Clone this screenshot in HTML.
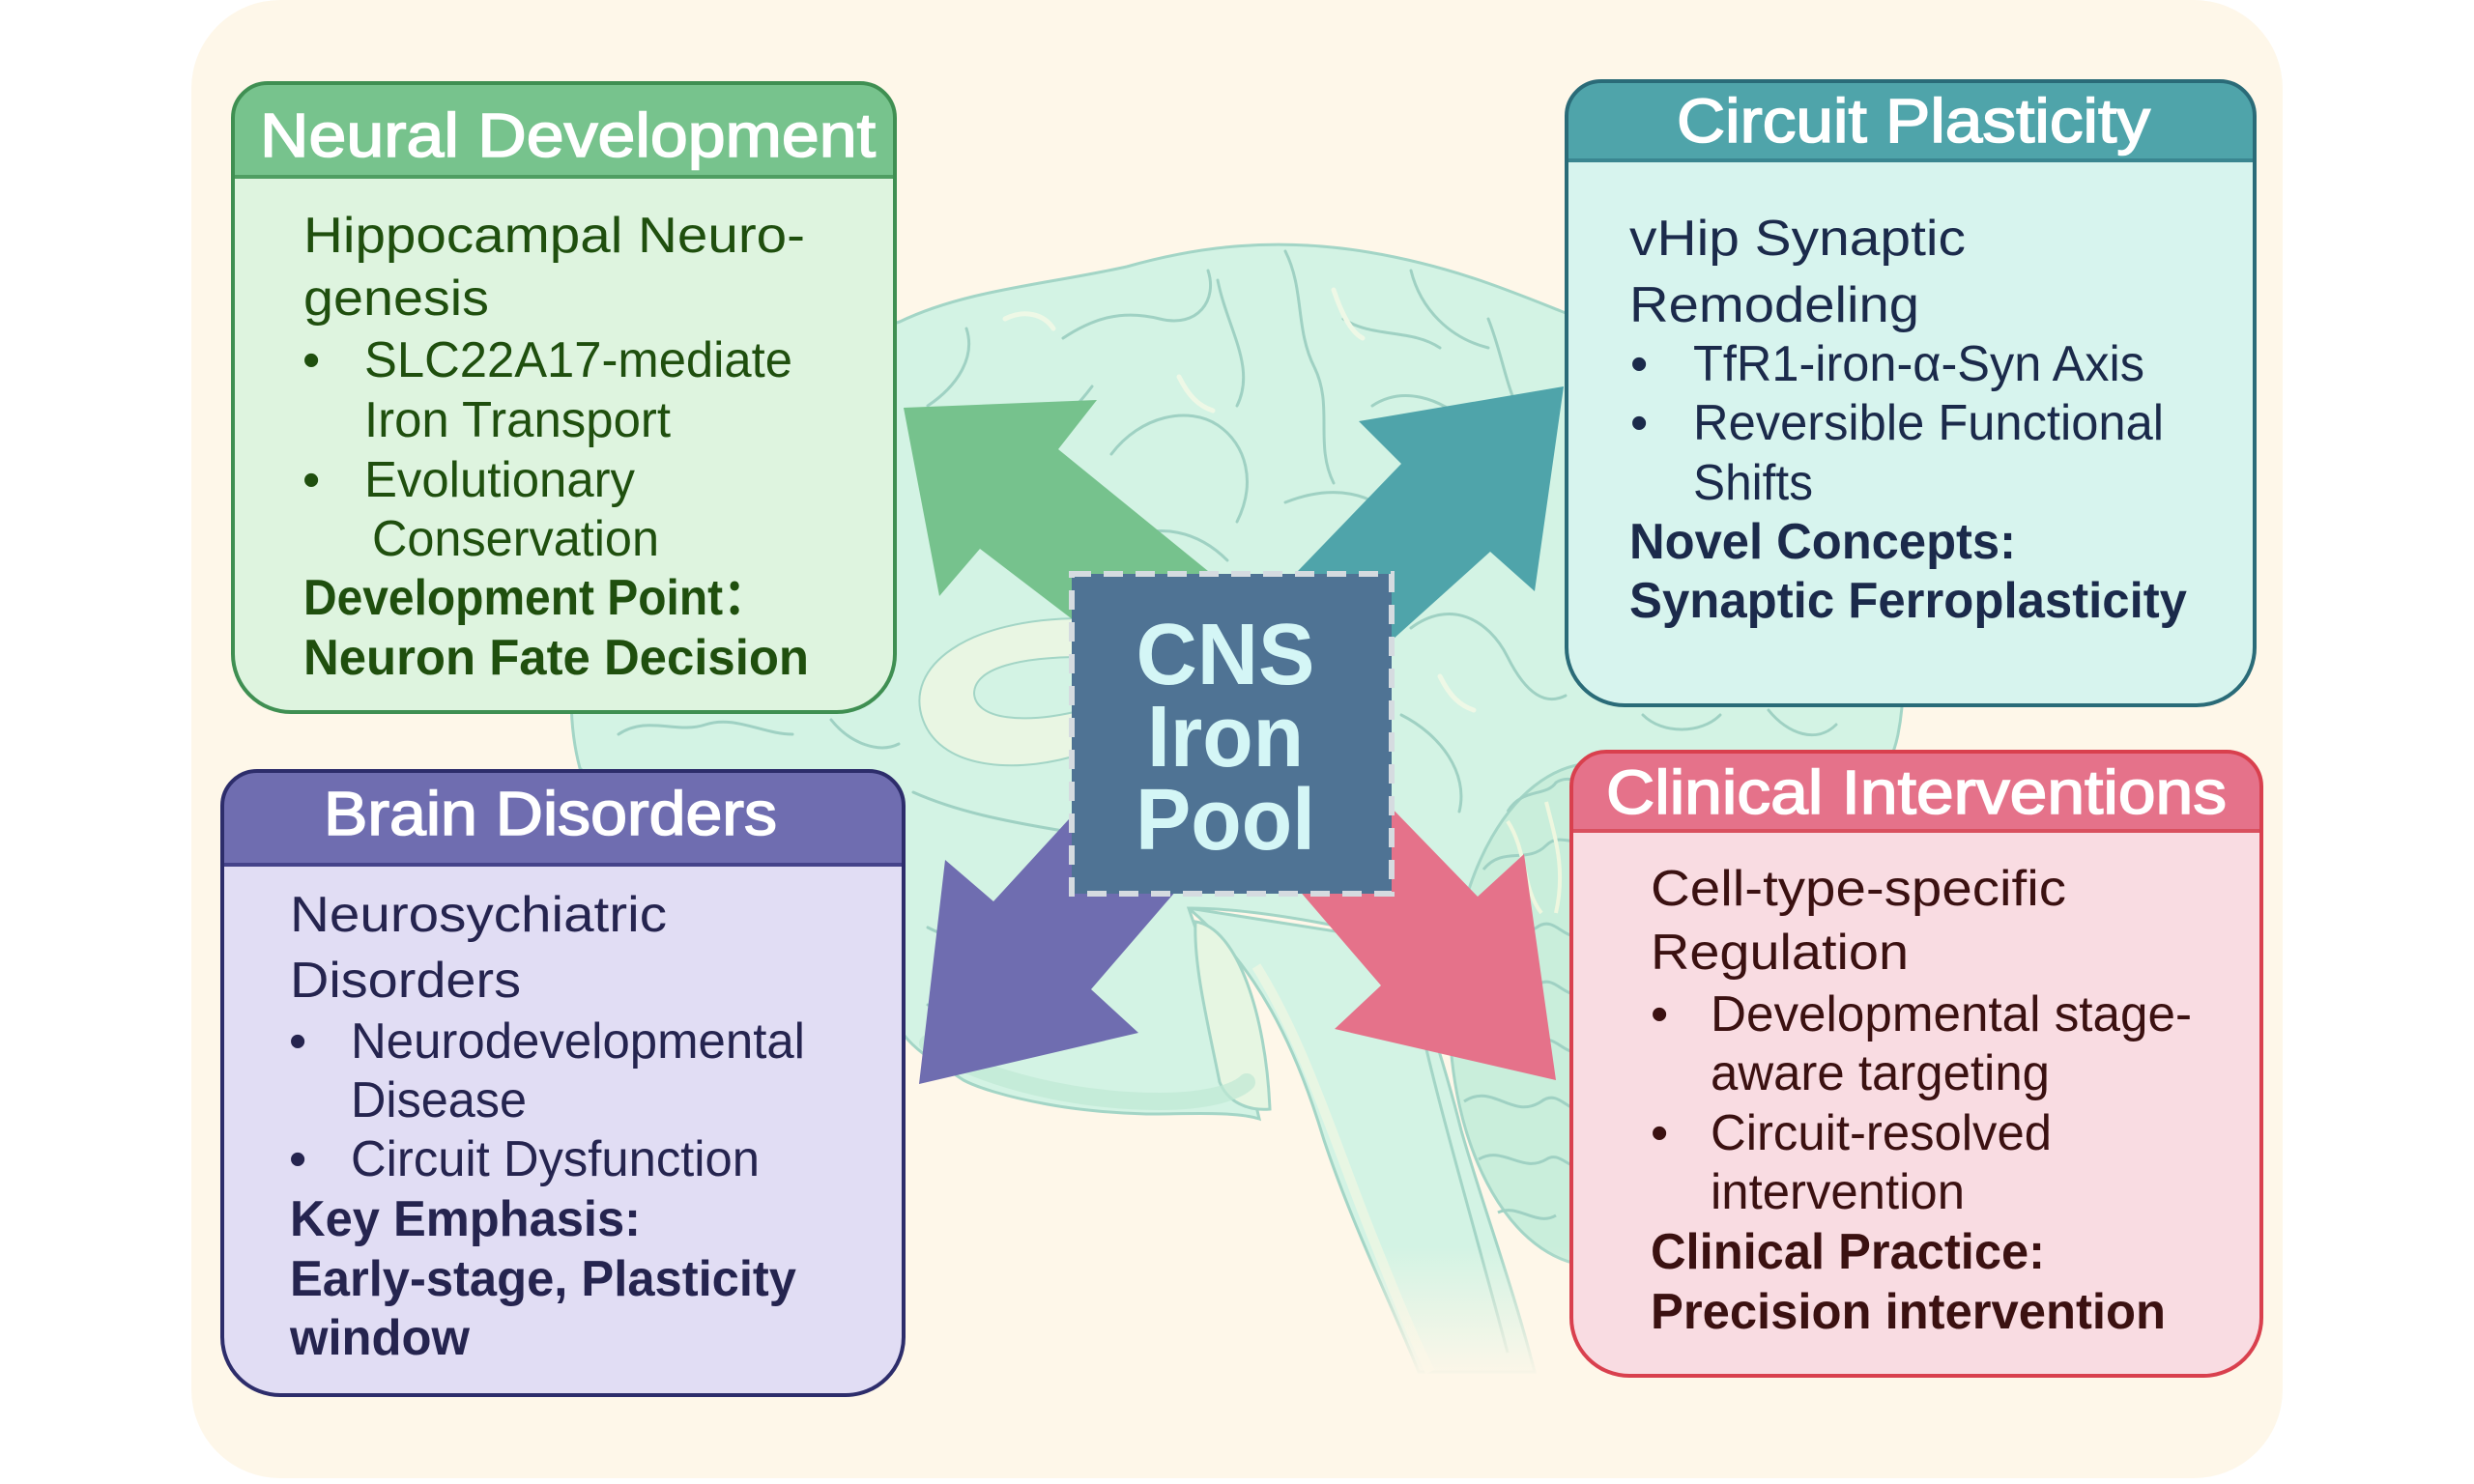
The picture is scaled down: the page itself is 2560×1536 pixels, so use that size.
<!DOCTYPE html>
<html>
<head>
<meta charset="utf-8">
<style>
html,body{margin:0;padding:0;background:#ffffff;}
svg{display:block;}
text{font-family:"Liberation Sans","Noto Sans CJK SC",Arial,sans-serif;}
</style>
</head>
<body>
<svg width="2560" height="1536" viewBox="0 0 2560 1536" xmlns="http://www.w3.org/2000/svg">
  <defs>
    <linearGradient id="fade" x1="0" y1="0" x2="0" y2="1">
      <stop offset="0" stop-color="#fef7e9" stop-opacity="0"/>
      <stop offset="1" stop-color="#fef7e9" stop-opacity="1"/>
    </linearGradient>
  </defs>

  <!-- page background -->
  <rect x="0" y="0" width="2560" height="1536" fill="#ffffff"/>
  <rect x="198" y="0" width="2164" height="1530" rx="92" ry="92" fill="#fef7e9"/>

  <!-- ===== Brain illustration ===== -->
  <g>
    <!-- brainstem -->
    <path d="M1230,940 C1300,1000 1340,1080 1370,1180 C1400,1270 1440,1350 1468,1420 L1588,1420 C1565,1330 1535,1250 1512,1170 C1492,1090 1470,1030 1452,975 Z" fill="#d3f3e4" stroke="#a3d5c6" stroke-width="3"/>
    <path d="M1300,1000 C1350,1080 1380,1180 1420,1280 C1440,1330 1460,1380 1480,1420" fill="none" stroke="#e8f6e3" stroke-width="10"/>
    <path d="M1470,1060 C1490,1150 1520,1250 1560,1400" fill="none" stroke="#a3d5c6" stroke-width="3"/>
    <!-- cerebrum -->
    <path d="M600,795 C575,700 605,590 670,510 C740,420 840,360 931,333 C1000,300 1080,295 1166,276 C1240,255 1320,245 1416,261 C1500,275 1560,300 1615,322 C1730,365 1840,430 1905,510 C1965,590 1978,690 1964,760 C1950,830 1890,860 1800,875 C1720,890 1650,880 1600,900 C1540,920 1500,930 1452,975 C1400,960 1300,940 1230,940 C1250,1000 1290,1100 1303,1158 C1278,1150 1230,1153 1186,1153 C1140,1152 1100,1146 1084,1143 C1040,1135 1010,1125 997,1118 C970,1100 950,1090 936,1072 C880,1030 820,960 760,900 C700,860 640,840 600,795 Z" fill="#d3f3e4" stroke="#a3d5c6" stroke-width="3"/>
    <!-- cerebellum -->
    <ellipse cx="1650" cy="1050" rx="150" ry="260" fill="#c9eedb" stroke="#a3d5c6" stroke-width="3"/>
    <path d="M1560,840 C1575,815 1600,825 1610,810 C1625,800 1640,815 1650,805 M1535,900 C1555,875 1580,895 1600,875 C1615,860 1630,880 1650,865 M1520,960 C1550,940 1560,980 1590,960 C1610,945 1620,980 1640,965 M1510,1020 C1540,1000 1560,1040 1590,1020 C1610,1005 1620,1040 1640,1025 M1508,1080 C1540,1060 1560,1100 1590,1080 C1610,1065 1620,1100 1640,1085 M1515,1140 C1545,1120 1565,1160 1595,1140 C1615,1125 1625,1160 1645,1145 M1530,1200 C1555,1185 1575,1215 1600,1200 C1615,1190 1625,1215 1640,1205 M1550,1255 C1570,1245 1590,1270 1610,1258" fill="none" stroke="#9fd1c3" stroke-width="3"/>
    <path d="M1560,850 C1580,880 1575,920 1595,945 M1600,830 C1610,870 1620,900 1610,945" fill="none" stroke="#eef7df" stroke-width="4"/>
    <!-- inner lighter region / corpus callosum -->
    <path d="M1120,640 C1000,640 935,690 955,745 C975,800 1060,800 1120,780 L1120,735 C1060,750 1010,745 1008,718 C1008,690 1060,680 1120,680 Z" fill="#e9f6e3" stroke="#a3d5c6" stroke-width="2"/>
    <path d="M1237,954 C1280,960 1310,1050 1314,1148 C1290,1150 1270,1140 1262,1120 C1250,1060 1235,1000 1237,954 Z" fill="#e6f6e2" stroke="#a3d5c6" stroke-width="3"/>
    <path d="M960,1080 C1020,1120 1120,1140 1200,1140 C1250,1140 1280,1130 1290,1120" fill="none" stroke="#bfe8d4" stroke-width="18" stroke-linecap="round" opacity="0.7"/>
    <!-- gyri -->
    <g fill="none" stroke="#9fd1c3" stroke-width="3" stroke-linecap="round">
      <path d="M960,420 C990,400 1010,370 1000,340"/>
      <path d="M1010,500 C1060,470 1100,440 1130,400"/>
      <path d="M1100,350 C1130,330 1160,320 1200,330 C1240,340 1260,310 1250,280"/>
      <path d="M1150,470 C1180,430 1230,420 1260,440 C1290,460 1300,500 1280,540"/>
      <path d="M1260,290 C1270,340 1300,380 1280,420"/>
      <path d="M1330,260 C1350,300 1340,340 1360,380 C1380,420 1360,460 1380,500"/>
      <path d="M1390,330 C1420,350 1460,340 1490,360"/>
      <path d="M1420,420 C1450,400 1490,410 1520,440"/>
      <path d="M1460,280 C1470,320 1500,350 1540,360"/>
      <path d="M1540,330 C1560,380 1560,430 1600,460"/>
      <path d="M1330,520 C1380,500 1420,510 1450,540"/>
      <path d="M1160,560 C1200,540 1240,550 1270,580"/>
      <path d="M1460,650 C1500,620 1540,640 1560,680 C1580,720 1600,730 1620,720"/>
      <path d="M1450,740 C1490,760 1520,800 1510,840"/>
      <path d="M1700,740 C1720,760 1760,760 1780,740 M1830,735 C1850,760 1880,770 1900,750"/>
      <path d="M640,760 C670,740 700,760 730,750 C760,740 790,760 820,760 M860,745 C880,770 910,780 930,770"/>
      <path d="M960,960 C1000,980 1050,990 1090,1000 M960,1040 C1010,1060 1060,1070 1110,1080"/>
      <path d="M945,820 C990,840 1040,850 1100,860"/>
    </g>
    <g fill="none" stroke="#eef8e6" stroke-width="5" stroke-linecap="round">
      <path d="M1040,330 C1060,320 1080,325 1090,340"/>
      <path d="M1220,390 C1230,410 1240,420 1255,425"/>
      <path d="M1380,300 C1390,330 1400,345 1410,350"/>
      <path d="M1560,420 C1570,440 1580,450 1595,455"/>
      <path d="M1490,700 C1500,720 1510,730 1525,735"/>
    </g>
    <!-- fade brainstem bottom -->
    <rect x="1380" y="1290" width="260" height="140" fill="url(#fade)"/>
  </g>

  <!-- ===== Arrows ===== -->
  <polygon points="935,422 1135,414 1095,465 1320,648 1200,710 1014,568 972,617" fill="#76c28d"/>
  <polygon points="1618,400 1406,436 1450,480 1290,646 1380,717 1542,571 1588,612" fill="#4fa4aa"/>
  <polygon points="951,1122 978,890 1028,933 1150,800 1230,907 1129,1024 1178,1069" fill="#6f6db0"/>
  <polygon points="1610,1118 1381,1065 1429,1020 1330,905 1400,795 1529,928 1577,884" fill="#e5728a"/>

  <!-- ===== CNS Iron Pool ===== -->
  <rect x="1109" y="594" width="331" height="331" fill="#4f7394" stroke="#d5dbe0" stroke-width="6" stroke-dasharray="20 13"/>
  <g font-weight="bold" font-size="90" fill="#d4f6f6" text-anchor="middle">
    <text x="1268" y="708" textLength="185" lengthAdjust="spacingAndGlyphs">CNS</text>
    <text x="1268" y="793" textLength="162" lengthAdjust="spacingAndGlyphs">Iron</text>
    <text x="1268" y="879" textLength="186" lengthAdjust="spacingAndGlyphs">Pool</text>
  </g>

  <!-- ===== Neural Development ===== -->
  <path d="M277,86 H890 A36 36 0 0 1 926,122 V677 A60 60 0 0 1 866,737 H301 A60 60 0 0 1 241,677 V122 A36 36 0 0 1 277,86 Z" fill="#def4df"/>
  <path d="M277,86 H890 A36 36 0 0 1 926,122 V184 H241 V122 A36 36 0 0 1 277,86 Z" fill="#77c38d"/>
  <line x1="241" y1="183" x2="926" y2="183" stroke="#4f9e62" stroke-width="4"/>
  <path d="M277,86 H890 A36 36 0 0 1 926,122 V677 A60 60 0 0 1 866,737 H301 A60 60 0 0 1 241,677 V122 A36 36 0 0 1 277,86 Z" fill="none" stroke="#3f8f52" stroke-width="4"/>
  <text x="269" y="162" font-size="64" fill="#ffffff" stroke="#ffffff" stroke-width="1.6" textLength="637" lengthAdjust="spacingAndGlyphs">Neural Development</text>
  <g font-size="52" fill="#1f4f0e">
    <text x="314" y="261" textLength="519" lengthAdjust="spacingAndGlyphs">Hippocampal Neuro-</text>
    <text x="314" y="326" textLength="192" lengthAdjust="spacingAndGlyphs">genesis</text>
    <text x="313" y="390">•</text>
    <text x="377" y="390" textLength="443" lengthAdjust="spacingAndGlyphs">SLC22A17-mediate</text>
    <text x="377" y="452" textLength="317" lengthAdjust="spacingAndGlyphs">Iron Transport</text>
    <text x="313" y="514">•</text>
    <text x="377" y="514" textLength="280" lengthAdjust="spacingAndGlyphs">Evolutionary</text>
    <text x="385" y="575" textLength="297" lengthAdjust="spacingAndGlyphs">Conservation</text>
    <text x="314" y="636" font-weight="bold" textLength="482" lengthAdjust="spacingAndGlyphs">Development Point：</text>
    <text x="314" y="698" font-weight="bold" textLength="523" lengthAdjust="spacingAndGlyphs">Neuron Fate Decision</text>
  </g>

  <!-- ===== Circuit Plasticity ===== -->
  <path d="M1657,84 H2297 A36 36 0 0 1 2333,120 V670 A60 60 0 0 1 2273,730 H1681 A60 60 0 0 1 1621,670 V120 A36 36 0 0 1 1657,84 Z" fill="#d7f4ee"/>
  <path d="M1657,84 H2297 A36 36 0 0 1 2333,120 V167 H1621 V120 A36 36 0 0 1 1657,84 Z" fill="#4fa4aa"/>
  <line x1="1621" y1="166" x2="2333" y2="166" stroke="#3a8690" stroke-width="4"/>
  <path d="M1657,84 H2297 A36 36 0 0 1 2333,120 V670 A60 60 0 0 1 2273,730 H1681 A60 60 0 0 1 1621,670 V120 A36 36 0 0 1 1657,84 Z" fill="none" stroke="#2a6b78" stroke-width="4"/>
  <text x="1735" y="147" font-size="64" fill="#ffffff" stroke="#ffffff" stroke-width="1.6" textLength="490" lengthAdjust="spacingAndGlyphs">Circuit Plasticity</text>
  <g font-size="52" fill="#1b2a4b">
    <text x="1686" y="264" textLength="348" lengthAdjust="spacingAndGlyphs">vHip Synaptic</text>
    <text x="1686" y="333" textLength="300" lengthAdjust="spacingAndGlyphs">Remodeling</text>
    <text x="1687" y="394">•</text>
    <text x="1752" y="394" textLength="467" lengthAdjust="spacingAndGlyphs">TfR1-iron-α-Syn Axis</text>
    <text x="1687" y="455">•</text>
    <text x="1752" y="455" textLength="487" lengthAdjust="spacingAndGlyphs">Reversible Functional</text>
    <text x="1752" y="517" textLength="124" lengthAdjust="spacingAndGlyphs">Shifts</text>
    <text x="1686" y="578" font-weight="bold" textLength="400" lengthAdjust="spacingAndGlyphs">Novel Concepts:</text>
    <text x="1686" y="639" font-weight="bold" textLength="577" lengthAdjust="spacingAndGlyphs">Synaptic Ferroplasticity</text>
  </g>

  <!-- ===== Brain Disorders ===== -->
  <path d="M266,798 H899 A36 36 0 0 1 935,834 V1384 A60 60 0 0 1 875,1444 H290 A60 60 0 0 1 230,1384 V834 A36 36 0 0 1 266,798 Z" fill="#e1ddf4"/>
  <path d="M266,798 H899 A36 36 0 0 1 935,834 V896 H230 V834 A36 36 0 0 1 266,798 Z" fill="#6f6db0"/>
  <line x1="230" y1="895" x2="935" y2="895" stroke="#45438a" stroke-width="4"/>
  <path d="M266,798 H899 A36 36 0 0 1 935,834 V1384 A60 60 0 0 1 875,1444 H290 A60 60 0 0 1 230,1384 V834 A36 36 0 0 1 266,798 Z" fill="none" stroke="#2d2d6b" stroke-width="4"/>
  <text x="335" y="864" font-size="64" fill="#ffffff" stroke="#ffffff" stroke-width="1.6" textLength="469" lengthAdjust="spacingAndGlyphs">Brain Disorders</text>
  <g font-size="52" fill="#25244f">
    <text x="300" y="964" textLength="390" lengthAdjust="spacingAndGlyphs">Neurosychiatric</text>
    <text x="300" y="1032" textLength="239" lengthAdjust="spacingAndGlyphs">Disorders</text>
    <text x="299" y="1095">•</text>
    <text x="363" y="1095" textLength="470" lengthAdjust="spacingAndGlyphs">Neurodevelopmental</text>
    <text x="363" y="1156" textLength="182" lengthAdjust="spacingAndGlyphs">Disease</text>
    <text x="299" y="1217">•</text>
    <text x="363" y="1217" textLength="423" lengthAdjust="spacingAndGlyphs">Circuit Dysfunction</text>
    <text x="300" y="1279" font-weight="bold" textLength="363" lengthAdjust="spacingAndGlyphs">Key Emphasis:</text>
    <text x="300" y="1341" font-weight="bold" textLength="524" lengthAdjust="spacingAndGlyphs">Early-stage, Plasticity</text>
    <text x="300" y="1402" font-weight="bold" textLength="186" lengthAdjust="spacingAndGlyphs">window</text>
  </g>

  <!-- ===== Clinical Interventions ===== -->
  <path d="M1662,778 H2304 A36 36 0 0 1 2340,814 V1364 A60 60 0 0 1 2280,1424 H1686 A60 60 0 0 1 1626,1364 V814 A36 36 0 0 1 1662,778 Z" fill="#f9dce2"/>
  <path d="M1662,778 H2304 A36 36 0 0 1 2340,814 V861 H1626 V814 A36 36 0 0 1 1662,778 Z" fill="#e5728a"/>
  <line x1="1626" y1="860" x2="2340" y2="860" stroke="#d9505f" stroke-width="4"/>
  <path d="M1662,778 H2304 A36 36 0 0 1 2340,814 V1364 A60 60 0 0 1 2280,1424 H1686 A60 60 0 0 1 1626,1364 V814 A36 36 0 0 1 1662,778 Z" fill="none" stroke="#d9404e" stroke-width="4"/>
  <text x="1662" y="842" font-size="64" fill="#ffffff" stroke="#ffffff" stroke-width="1.6" textLength="642" lengthAdjust="spacingAndGlyphs">Clinical Interventions</text>
  <g font-size="52" fill="#3b1111">
    <text x="1708" y="937" textLength="430" lengthAdjust="spacingAndGlyphs">Cell-type-specific</text>
    <text x="1708" y="1003" textLength="267" lengthAdjust="spacingAndGlyphs">Regulation</text>
    <text x="1708" y="1067">•</text>
    <text x="1770" y="1067" textLength="498" lengthAdjust="spacingAndGlyphs">Developmental stage-</text>
    <text x="1770" y="1128" textLength="351" lengthAdjust="spacingAndGlyphs">aware targeting</text>
    <text x="1708" y="1190">•</text>
    <text x="1770" y="1190" textLength="353" lengthAdjust="spacingAndGlyphs">Circuit-resolved</text>
    <text x="1770" y="1251" textLength="263" lengthAdjust="spacingAndGlyphs">intervention</text>
    <text x="1708" y="1313" font-weight="bold" textLength="408" lengthAdjust="spacingAndGlyphs">Clinical Practice:</text>
    <text x="1708" y="1375" font-weight="bold" textLength="533" lengthAdjust="spacingAndGlyphs">Precision intervention</text>
  </g>
</svg>
</body>
</html>
